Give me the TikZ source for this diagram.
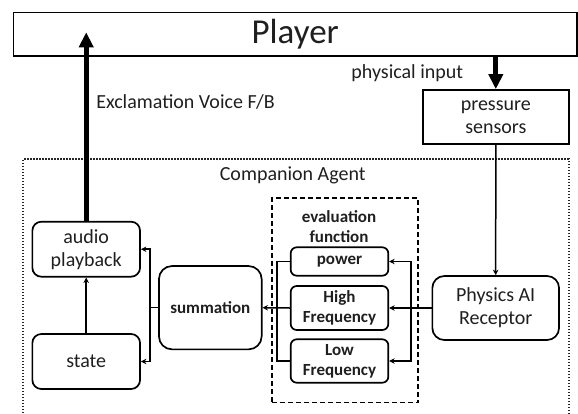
\documentclass[tikz,border=0pt]{standalone}
\usepackage{fontspec}
\setmainfont{Carlito}
\usetikzlibrary{arrows.meta}
\begin{document}
\begin{tikzpicture}[x=1pt,y=-1pt,
  box/.style={draw, line width=1.7pt, inner sep=0pt, align=center, text=black!88,
    font=\fontsize{20}{23}\selectfont},
  rbox/.style={box, rounded corners=9pt},
  bbox/.style={box, rounded corners=6pt, font=\fontsize{17}{20}\bfseries\selectfont},
  label/.style={inner sep=0pt, align=center, text=black!88, font=\fontsize{20}{23}\selectfont},
  conn/.style={line width=1.5pt, -{Stealth[length=5.5pt,width=5.5pt]}},
  wire/.style={line width=1.5pt},
  fatarrow/.style={line width=5pt, -{Triangle[length=15pt,width=14pt]}},
]
\useasboundingbox (0,0) rectangle (578,413);

% top-level boxes
\node[box, line width=1.5pt, minimum width=563.7pt, minimum height=43.7pt,
      font=\fontsize{35}{40}\selectfont] (player) at (295.2,34.2) {Player};
\node[box, minimum width=146.3pt, minimum height=54pt] (sensors) at (495.8,117) {pressure\\sensors};

% companion agent container (runs past the lower edge)
\draw[line width=2pt, black!85, dash pattern=on 1.5pt off 1.5pt]
  (22.7,413) -- (22.7,159.3) -- (568.5,159.3) -- (568.5,413);
\node[label] (agentlabel) at (292.7,175) {Companion Agent};

% evaluation function group
\node[draw, line width=1.7pt, dash pattern=on 5pt off 3pt, inner sep=0pt,
      minimum width=146pt, minimum height=204.8pt] (evalbox) at (344.7,300.1) {};
\node[label, font=\fontsize{17}{20}\bfseries\selectfont] (evallabel) at (339,226.7) {evaluation\\function};
\node[bbox, minimum width=97.6pt, minimum height=28.4pt] (power) at (339.5,261.5) {power};
\node[bbox, minimum width=97.6pt, minimum height=44pt] (high) at (339.5,308) {High\\Frequency};
\node[bbox, minimum width=97.6pt, minimum height=43.4pt] (low) at (339.5,361) {Low\\Frequency};

% agent blocks
\node[rbox, minimum width=107.7pt, minimum height=55pt] (audio) at (86.2,249.2) {audio\\playback};
\node[rbox, minimum width=107.7pt, minimum height=55pt] (state) at (86.2,361.5) {state};
\node[rbox, rounded corners=13pt, minimum width=102.7pt, minimum height=83.3pt,
      font=\fontsize{17}{20}\bfseries\selectfont] (summation) at (210.3,307.7) {summation};
\node[rbox, rounded corners=12pt, minimum width=126.7pt, minimum height=64pt] (receptor) at (495.7,308) {Physics AI\\Receptor};

% labels on the outer arrows
\node[label] (voice) at (185.5,101.7) {Exclamation Voice F/B};
\node[label] (physin) at (407.3,72.7) {physical input};

% feedback to and input from the player
\coordinate (voicetip) at (86.2,32.3);
\draw[fatarrow] (audio.north) -- (voicetip);
\draw[fatarrow] (sensors.north |- player.south) -- (sensors.north);

% signal flow inside the agent
\draw[conn] (sensors.south) -- (receptor.north);
\draw[conn] (receptor.west) -- (high.east);
\coordinate (rbus) at (411,308);
\draw[conn] (rbus) |- (power.east);
\draw[conn] (rbus) |- (low.east);
\coordinate (lbus) at (277,308);
\draw[wire] (power.west) -| (lbus) |- (low.west);
\draw[conn] (high.west) -- (summation.east);
\coordinate (sbus) at (150,307.7);
\draw[wire] (summation.west) -- (sbus);
\draw[conn] (sbus) |- (audio.east);
\draw[conn] (sbus) |- (state.east);
\draw[conn] (state.north) -- (audio.south);
\end{tikzpicture}
\end{document}
